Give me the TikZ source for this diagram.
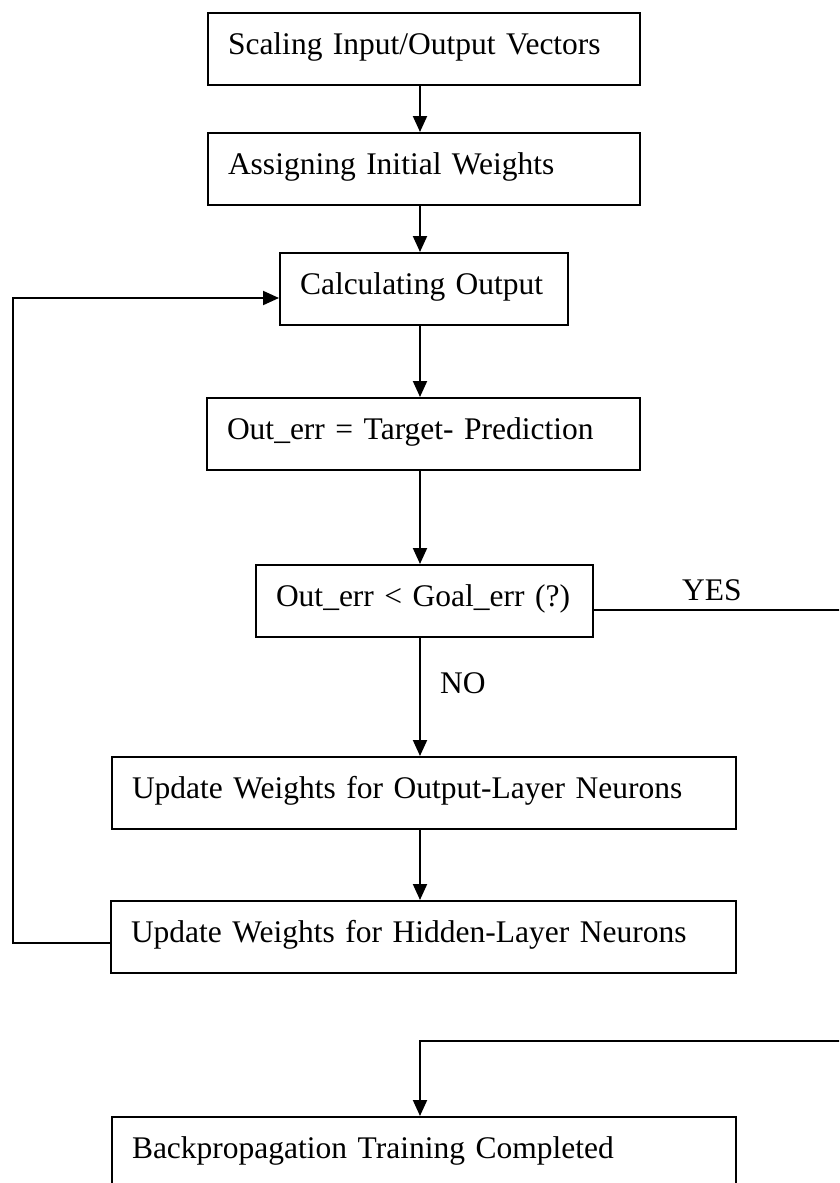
\documentclass[tikz,border=0pt]{standalone}
\usepackage{fontspec}
\setmainfont{Liberation Serif}
\usetikzlibrary{arrows.meta}
\begin{document}
\begin{tikzpicture}[x=1pt,y=-1pt,
  box/.style={draw, line width=2pt, rectangle, anchor=north west,
    inner xsep=20pt, inner ysep=0pt, text height=41pt, text depth=31pt,
    align=left, font=\fontsize{31.5}{38}\selectfont},
  lbl/.style={anchor=base west, inner sep=0pt, font=\fontsize{31.5}{38}\selectfont},
  arr/.style={line width=2pt, -{Triangle[length=16pt,width=14pt]}}]
\useasboundingbox (0,0) rectangle (839,1183);
\clip (0,0) rectangle (839,1183);
% boxes
\node[box, text width=392pt] (b1) at (207,12)   {\mbox{Scaling Input/Output Vectors}};
\node[box, text width=392pt] (b2) at (207,132)  {\mbox{Assigning Initial Weights}};
\node[box, text width=248pt] (b3) at (279,252)  {\mbox{Calculating Output}};
\node[box, text width=393pt] (b4) at (206,397)  {\mbox{Out\_err = Target- Prediction}};
\node[box, text width=297pt] (b5) at (255,564)  {\mbox{Out\_err < Goal\_err (?)}};
\node[box, text width=584pt] (b6) at (111,756)  {\mbox{Update Weights for Output-Layer Neurons}};
\node[box, text width=585pt] (b7) at (110,900)  {\mbox{Update Weights for Hidden-Layer Neurons}};
\node[box, text width=584pt] (b8) at (111,1116) {\mbox{Backpropagation Training Completed}};
% labels
\node[lbl] (yes) at (682,600) {YES};
\node[lbl] (no)  at (440,693) {NO};
% helper coordinates
\coordinate (ax) at (420,0);
\coordinate (lx) at (13,0);
\coordinate (rx) at (848,0);
\coordinate (ry) at (0,1041);
\coordinate (lo) at ([yshift=-6pt]b7.west);
\coordinate (li) at ([yshift=-9pt]b3.west);
\coordinate (yo) at ([yshift=-9pt]b5.east);
% main flow
\draw[arr] (ax |- b1.south) -- (ax |- b2.north);
\draw[arr] (ax |- b2.south) -- (ax |- b3.north);
\draw[arr] (ax |- b3.south) -- (ax |- b4.north);
\draw[arr] (ax |- b4.south) -- (ax |- b5.north);
\draw[arr] (ax |- b5.south) -- (ax |- b6.north);
\draw[arr] (ax |- b6.south) -- (ax |- b7.north);
% loop back
\draw[arr] (lo) -- (lo -| lx) -- (li -| lx) -- (li);
% YES branch
\draw[arr] (yo) -- (yo -| rx) -- (rx |- ry) -- (ax |- ry) -- (ax |- b8.north);
\end{tikzpicture}
\end{document}
